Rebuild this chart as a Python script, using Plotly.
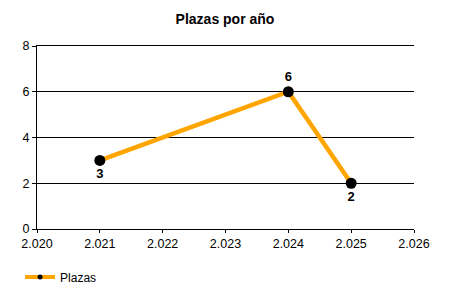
import plotly.graph_objects as go

years = [2021, 2024, 2025]
plazas = [3, 6, 2]
label_pos = ["bottom center", "top center", "bottom center"]
x_ticks = [2020, 2021, 2022, 2023, 2024, 2025, 2026]
x_tick_labels = ["2.020", "2.021", "2.022", "2.023", "2.024", "2.025", "2.026"]
y_ticks = [0, 2, 4, 6, 8]

font = "Liberation Sans, Arial, sans-serif"
orange = "#FFA500"

fig = go.Figure()
fig.add_trace(go.Scatter(
    x=years, y=plazas, name="Plazas", showlegend=False,
    mode="lines+markers+text",
    line=dict(color=orange, width=4.5),
    marker=dict(color="black", size=11),
    text=[f"<b>{v}</b>" for v in plazas],
    textposition=label_pos,
    textfont=dict(family=font, size=13, color="black"),
    cliponaxis=False,
))
# legend entry (smaller marker as in reference)
fig.add_trace(go.Scatter(
    x=[None], y=[None], name="Plazas", mode="lines+markers",
    line=dict(color=orange, width=4),
    marker=dict(color="black", size=5),
))

fig.update_layout(
    width=450, height=300,
    margin=dict(l=37, r=36, t=46, b=71, autoexpand=False),
    paper_bgcolor="white", plot_bgcolor="white",
    title=dict(text="<b>Plazas por año</b>", x=0.5, xanchor="center",
               y=1 - 19 / 300, yanchor="middle",
               font=dict(family=font, size=14, color="black")),
    font=dict(family=font, size=12, color="black"),
    showlegend=True,
    legend=dict(orientation="h", x=-0.045, xanchor="left", y=-48 / 183, yanchor="middle",
                font=dict(family=font, size=12, color="black"),
                itemwidth=30, bgcolor="rgba(0,0,0,0)"),
    xaxis=dict(range=[2020, 2026], tickvals=x_ticks, ticktext=x_tick_labels,
               showgrid=False, showline=True, linecolor="black", linewidth=1,
               mirror=True,
               ticks="outside", ticklen=3, tickcolor="black", zeroline=False,
               tickfont=dict(size=12.5)),
    yaxis=dict(range=[0, 8], tickvals=y_ticks, showgrid=True, gridcolor="black",
               gridwidth=1, showline=True, linecolor="black", linewidth=1,
               ticks="outside", ticklen=4, tickcolor="black", zeroline=False,
               tickfont=dict(size=12.5)),
)

fig.write_html("out.html")
